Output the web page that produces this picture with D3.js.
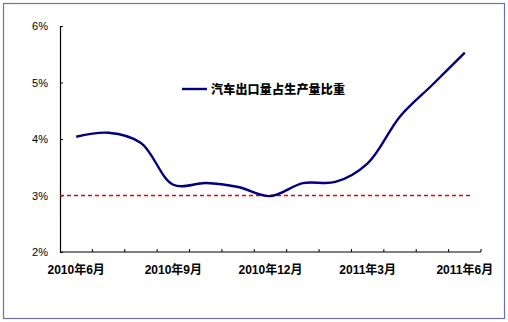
<!DOCTYPE html>
<html><head><meta charset="utf-8">
<script src="https://cdn.jsdelivr.net/npm/d3@7"></script>
<style>body{margin:0;background:#fff}svg{display:block}</style>
</head><body>
<script>
const months = ["2010年6月","2010年7月","2010年8月","2010年9月","2010年10月","2010年11月","2010年12月","2011年1月","2011年2月","2011年3月","2011年4月","2011年5月","2011年6月"];
const tickLabels = ["2010年6月","2010年9月","2010年12月","2011年3月","2011年6月"];
const exportShare = [4.04, 4.11, 3.93, 3.19, 3.22, 3.15, 2.99, 3.22, 3.24, 3.57, 4.40, 4.96, 5.53];
const refLevel = [3, 3];
const yTicks = [2, 3, 4, 5, 6];
const seriesName = "汽车出口量占生产量比重";

const W = 508, H = 322;
const svg = d3.select("body").append("svg").attr("width", W).attr("height", H);
svg.append("rect").attr("x", 3.5).attr("y", 3.5).attr("width", 501).attr("height", 315)
  .attr("fill", "#fff").attr("stroke", "#6f6fab").attr("stroke-width", 1.2);

const x = d3.scaleBand().domain(months).range([60, 481]).padding(0);
const y = d3.scaleLinear().domain([2, 6]).range([252, 26]);

// y axis
const yAxis = d3.axisLeft(y).tickValues(yTicks).tickSize(-3).tickPadding(12)
  .tickFormat(d => d + "%");
const gy = svg.append("g").attr("transform", "translate(60,0)").call(yAxis);
gy.select(".domain").attr("stroke", "#000").attr("stroke-width", 1.2);
gy.selectAll(".tick line").attr("stroke", "#000");
gy.selectAll("text").attr("font-family", "Arial, 'Liberation Sans', sans-serif").attr("font-size", 11).attr("fill", "#000");

// x axis
const xAxis = d3.axisBottom(x).tickSize(0).tickFormat(d => tickLabels.includes(d) ? d : "");
const gx = svg.append("g").attr("transform", "translate(0,252)").call(xAxis);
gx.select(".domain").attr("stroke", "#000").attr("stroke-width", 1.2).attr("d", "M60,0H481");
gx.selectAll("text").attr("dy", "1.55em")
  .attr("font-family", "Arial, 'Liberation Sans', 'Noto Sans CJK SC', sans-serif")
  .attr("font-weight", "bold").attr("font-size", 12).attr("fill", "#000");
// band boundary ticks (inward)
const bounds = months.map(m => x(m)).concat([x(months[months.length-1]) + x.bandwidth()]);
gx.selectAll(".bt").data(bounds.slice(1)).enter().append("line")
  .attr("x1", d => d).attr("x2", d => d).attr("y1", 0).attr("y2", -3).attr("stroke", "#000");

// reference dashed line
const xr = d3.scaleLinear().domain([0, 1]).range([60, 471]);
svg.append("path").datum(refLevel)
  .attr("d", d3.line().x((d, i) => xr(i)).y(d => y(d)))
  .style("stroke", "#ee0000").style("stroke-width", 1.3).style("stroke-dasharray", "4,3").style("fill", "none");

// series line
const line = d3.line().x((d, i) => x(months[i]) + x.bandwidth() / 2).y(d => y(d))
  .curve(d3.curveCatmullRom.alpha(0.5));
svg.append("path").datum(exportShare).attr("d", line)
  .attr("stroke", "#000080").attr("stroke-width", 2.4).attr("fill", "none");

// legend
svg.append("line").attr("x1", 182).attr("x2", 207).attr("y1", 89).attr("y2", 89)
  .attr("stroke", "#000080").attr("stroke-width", 2.4);
svg.append("text").attr("x", 211).attr("y", 93.5).text(seriesName)
  .attr("font-family", "'Noto Sans CJK SC', sans-serif").attr("font-weight", "900")
  .attr("font-size", 12).attr("textLength", 134).attr("fill", "#000");
</script>
</body></html>
